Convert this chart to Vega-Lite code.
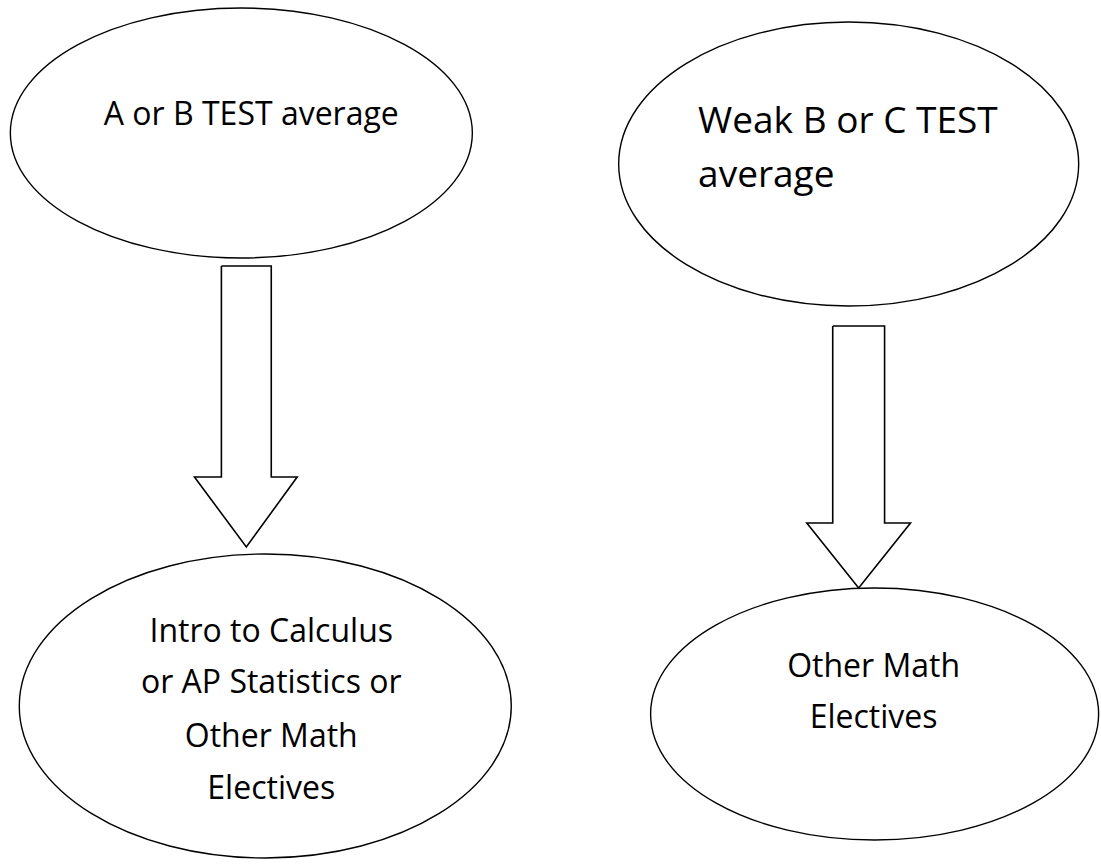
{
  "$schema": "https://vega.github.io/schema/vega-lite/v6.json",
  "width": 1101,
  "height": 864,
  "autosize": {"type": "fit", "contains": "padding"},
  "padding": 0,
  "background": "white",
  "config": {"view": {"stroke": null}},
  "datasets": {
    "nodes": [
      {"id": "n1", "x": 242, "y": 133},
      {"id": "n2", "x": 851, "y": 164},
      {"id": "n3", "x": 266, "y": 706},
      {"id": "n4", "x": 877, "y": 714}
    ],
    "arrows": [
      {"arrow": "a1", "i": 0, "x": 222, "y": 266},
      {"arrow": "a1", "i": 1, "x": 272, "y": 266},
      {"arrow": "a1", "i": 2, "x": 272, "y": 477},
      {"arrow": "a1", "i": 3, "x": 298, "y": 477},
      {"arrow": "a1", "i": 4, "x": 247, "y": 547},
      {"arrow": "a1", "i": 5, "x": 195, "y": 477},
      {"arrow": "a1", "i": 6, "x": 222, "y": 477},
      {"arrow": "a1", "i": 7, "x": 222, "y": 266},
      {"arrow": "a2", "i": 0, "x": 835, "y": 326},
      {"arrow": "a2", "i": 1, "x": 887, "y": 326},
      {"arrow": "a2", "i": 2, "x": 887, "y": 523},
      {"arrow": "a2", "i": 3, "x": 913, "y": 523},
      {"arrow": "a2", "i": 4, "x": 861, "y": 588},
      {"arrow": "a2", "i": 5, "x": 809, "y": 523},
      {"arrow": "a2", "i": 6, "x": 835, "y": 523},
      {"arrow": "a2", "i": 7, "x": 835, "y": 326}
    ],
    "labels": [
      {"node": "n1", "line": "A or B TEST average", "x": 252, "y": 125},
      {"node": "n2", "line": "Weak B or C TEST", "x": 700, "y": 133},
      {"node": "n2", "line": "average", "x": 700, "y": 187},
      {"node": "n3", "line": "Intro to Calculus", "x": 272, "y": 642},
      {"node": "n3", "line": "or AP Statistics or", "x": 272, "y": 693},
      {"node": "n3", "line": "Other Math", "x": 272, "y": 747},
      {"node": "n3", "line": "Electives", "x": 272, "y": 799},
      {"node": "n4", "line": "Other Math", "x": 876, "y": 677},
      {"node": "n4", "line": "Electives", "x": 876, "y": 728}
    ]
  },
  "layer": [
    {
      "data": {"name": "arrows"},
      "mark": {"type": "line", "color": "black", "strokeWidth": 1.6, "strokeJoin": "miter", "interpolate": "linear"},
      "encoding": {
        "x": {"field": "x", "type": "quantitative", "scale": {"domain": [0, 1101], "nice": false, "zero": false}, "axis": null},
        "y": {"field": "y", "type": "quantitative", "scale": {"domain": [0, 864], "nice": false, "zero": false, "reverse": true}, "axis": null},
        "order": {"field": "i", "type": "quantitative"},
        "detail": {"field": "arrow", "type": "nominal"}
      }
    },
    {
      "data": {"name": "nodes"},
      "mark": {"type": "point", "filled": false, "stroke": "black", "strokeWidth": 1.4, "opacity": 1, "size": 4},
      "encoding": {
        "x": {"field": "x", "type": "quantitative"},
        "y": {"field": "y", "type": "quantitative"},
        "shape": {
          "field": "id", "type": "nominal", "legend": null,
          "scale": {
            "domain": ["n1", "n2", "n3", "n4"],
            "range": [
              "M-231,0C-231,-69 -127.6,-125 0,-125C127.6,-125 231,-69 231,0C231,69 127.6,125 0,125C-127.6,125 -231,69 -231,0Z",
              "M-230,0C-230,-78.4 -127,-142 0,-142C127,-142 230,-78.4 230,0C230,78.4 127,142 0,142C-127,142 -230,78.4 -230,0Z",
              "M-246,0C-246,-83.9 -135.9,-152 0,-152C135.9,-152 246,-83.9 246,0C246,83.9 135.9,152 0,152C-135.9,152 -246,83.9 -246,0Z",
              "M-224,0C-224,-69.6 -123.7,-126 0,-126C123.7,-126 224,-69.6 224,0C224,69.6 123.7,126 0,126C-123.7,126 -224,69.6 -224,0Z"
            ]
          }
        }
      }
    },
    {
      "data": {"name": "labels"},
      "transform": [{"filter": "datum.node !== 'n2'"}],
      "mark": {"type": "text", "font": "Open Sans", "fontSize": 32, "align": "center", "baseline": "alphabetic", "color": "black"},
      "encoding": {
        "x": {"field": "x", "type": "quantitative"},
        "y": {"field": "y", "type": "quantitative"},
        "text": {"field": "line", "type": "nominal"}
      }
    },
    {
      "data": {"name": "labels"},
      "transform": [{"filter": "datum.node === 'n2'"}],
      "mark": {"type": "text", "font": "Open Sans", "fontSize": 37, "align": "left", "baseline": "alphabetic", "color": "black"},
      "encoding": {
        "x": {"field": "x", "type": "quantitative"},
        "y": {"field": "y", "type": "quantitative"},
        "text": {"field": "line", "type": "nominal"}
      }
    }
  ]
}
